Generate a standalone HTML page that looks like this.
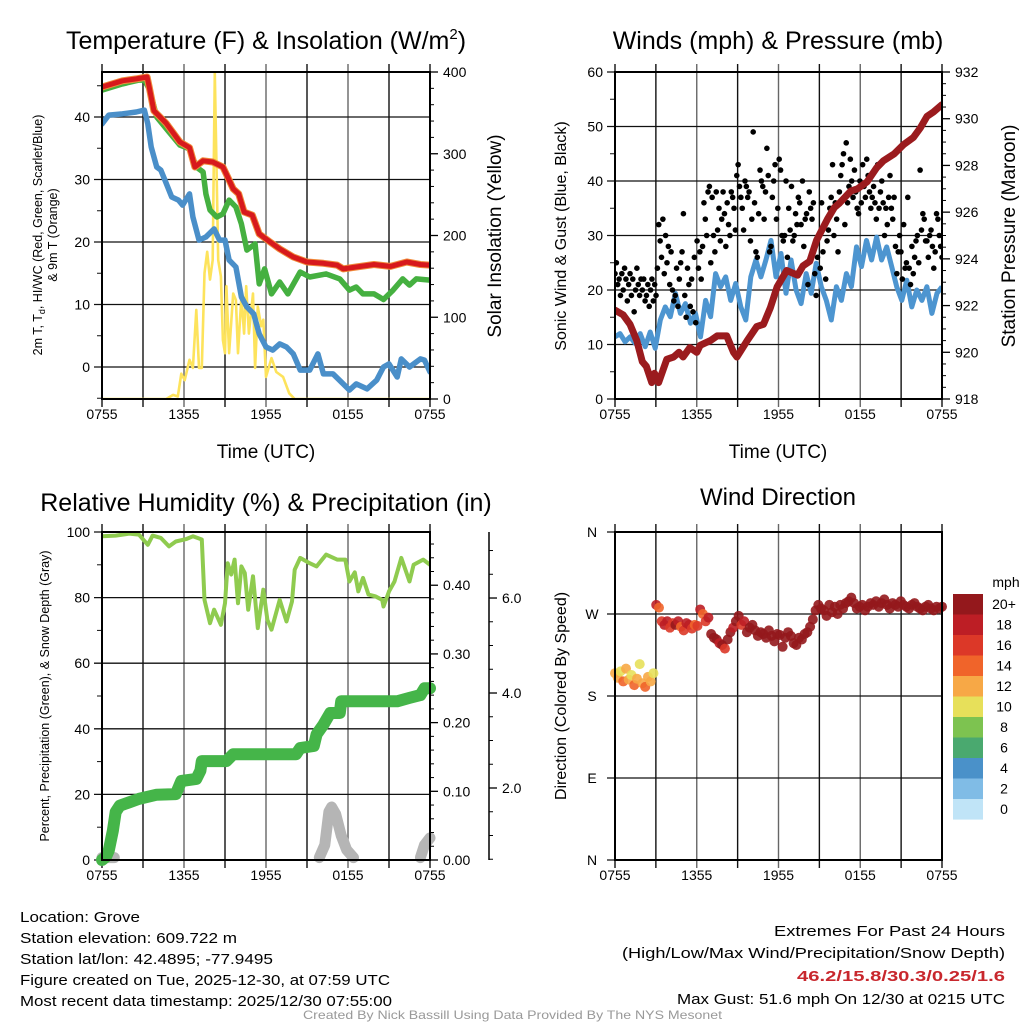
<!DOCTYPE html>
<html><head><meta charset="utf-8"><style>
html,body{margin:0;padding:0;background:#fff}
svg{display:block}
text{font-family:"Liberation Sans",sans-serif;fill:#000}
</style></head><body>
<svg id="chart" width="1024" height="1024" viewBox="0 0 1024 1024" xmlns="http://www.w3.org/2000/svg">
<rect x="0" y="0" width="1024" height="1024" fill="#fff"/>
<text x="266" y="49" font-size="25" text-anchor="middle">Temperature (F) &amp; Insolation (W/m<tspan font-size="15" dy="-10">2</tspan><tspan dy="10">)</tspan></text>
<text x="778" y="49" font-size="25" text-anchor="middle">Winds (mph) &amp; Pressure (mb)</text>
<text x="266" y="511" font-size="25" text-anchor="middle">Relative Humidity (%) &amp; Precipitation (in)</text>
<text x="778" y="505" font-size="24" text-anchor="middle">Wind Direction</text>
<text x="266" y="458" font-size="19" text-anchor="middle">Time (UTC)</text>
<text x="778" y="458" font-size="19" text-anchor="middle">Time (UTC)</text>
<g transform="translate(42,235) rotate(-90)"><text x="0" y="0" font-size="12.5" text-anchor="middle">2m T, T<tspan font-size="9" dy="3">d</tspan><tspan dy="-3">, HI/WC (Red, Green, Scarlet/Blue)</tspan></text><text x="0" y="15" font-size="12.5" text-anchor="middle">&amp; 9m T (Orange)</text></g>
<text transform="translate(501,236) rotate(-90)" font-size="19" text-anchor="middle">Solar Insolation (Yellow)</text>
<text transform="translate(566,236) rotate(-90)" font-size="16" text-anchor="middle">Sonic Wind &amp; Gust (Blue, Black)</text>
<text transform="translate(1015,236) rotate(-90)" font-size="19" text-anchor="middle">Station Pressure (Maroon)</text>
<text transform="translate(49,696) rotate(-90)" font-size="12.5" text-anchor="middle">Percent, Precipitation (Green), &amp; Snow Depth (Gray)</text>
<text transform="translate(566,696) rotate(-90)" font-size="16" text-anchor="middle">Direction (Colored By Speed)</text>
<g font-size="15">
<text x="20" y="922" textLength="120" lengthAdjust="spacingAndGlyphs">Location: Grove</text>
<text x="20" y="943" textLength="217" lengthAdjust="spacingAndGlyphs">Station elevation: 609.722 m</text>
<text x="20" y="964" textLength="253" lengthAdjust="spacingAndGlyphs">Station lat/lon: 42.4895; -77.9495</text>
<text x="20" y="985" textLength="370" lengthAdjust="spacingAndGlyphs">Figure created on Tue, 2025-12-30, at 07:59 UTC</text>
<text x="20" y="1006" textLength="372" lengthAdjust="spacingAndGlyphs">Most recent data timestamp: 2025/12/30 07:55:00</text>
</g>
<g font-size="15">
<text x="774" y="936" textLength="231" lengthAdjust="spacingAndGlyphs">Extremes For Past 24 Hours</text>
<text x="622" y="958" textLength="383" lengthAdjust="spacingAndGlyphs">(High/Low/Max Wind/Precipitation/Snow Depth)</text>
<text x="797" y="981" textLength="208" lengthAdjust="spacingAndGlyphs" font-weight="bold" style="fill:#c8272d">46.2/15.8/30.3/0.25/1.6</text>
<text x="677" y="1004" textLength="328" lengthAdjust="spacingAndGlyphs">Max Gust: 51.6 mph On 12/30 at 0215 UTC</text>
</g>
<text x="303" y="1019" font-size="12" textLength="419" lengthAdjust="spacingAndGlyphs" style="fill:#999">Created By Nick Bassill Using Data Provided By The NYS Mesonet</text>
</svg>
<script>
// ---------- data ----------
const tempHours=[0,1.5,2.5,3.3,3.45,3.8,4.7,5.7,6.4,6.8,7.4,8.1,8.85,9.2,9.6,10,10.4,11,11.5,12.3,13,14,15,16.2,17.2,17.65,18.6,19.9,21.1,22.3,23.3,24];
const tempValues=[44.8,45.8,46.1,46.4,44.8,41,39,36,35.1,32,33,32.8,32,30.4,28.5,27.7,24.8,24.3,21.3,20,18.9,17.6,16.8,16.6,16.3,15.7,16,16.4,16.1,16.8,16.4,16.3];
const hiwcHours=[0,1.5,2.7,3.1,3.5,4,4.9,5.7,6.4,6.9,7.4,7.6,7.9,8.4,8.85,9.3,9.8,10.2,10.6,11.2,11.5,11.9,12.4,13,13.6,14.5,15.2,16.4,17.4,18.1,18.6,19.1,19.9,20.6,21.3,22,22.5,23,24];
const hiwcValues=[44.3,45.3,45.9,45.9,44.3,40,37.6,35.5,34.9,32,31.2,27.7,25.1,24,24.5,26.7,25.6,22.9,18.7,19.7,13.3,15.7,11.7,13.6,11.7,15.2,14.4,14.9,14.1,12.3,12.8,11.7,11.7,10.8,12.3,14.1,13.1,14.1,13.9];
const dewHours=[0,0.5,1.5,2.5,3.1,3.35,3.6,4,4.3,4.6,5.1,5.6,5.9,6.4,6.65,7.1,7.6,8.2,8.6,9,9.3,9.8,10.2,10.6,11.1,11.5,12,12.5,13,13.5,14,14.5,15.2,15.8,16.2,16.9,17.65,18.1,18.6,19.4,20.1,20.6,21,21.6,21.9,22.5,23.3,23.6,24];
const dewValues=[38.9,40.3,40.5,40.8,41.1,38.9,35.2,32,31.5,29.9,27.2,26.7,25.9,27.7,24,20.3,20.8,22.1,20.3,20.3,17.1,16,11.2,9.6,8.5,5.3,3.2,2.7,3.7,3.2,2.1,-0.5,-0.5,2.1,-1.1,-1.1,-2.7,-3.7,-2.7,-3.5,-2.1,0,0.5,-1.6,1.3,0,1.3,1.1,-0.8];
const solarHours=[0,4.7,5.2,5.55,5.8,6.05,6.4,6.65,6.9,7.1,7.3,7.5,7.7,7.9,8.1,8.25,8.5,8.7,8.85,9,9.1,9.3,9.6,9.8,9.95,10.2,10.4,10.55,10.75,11.05,11.2,11.4,11.65,11.8,12,12.4,12.75,13.25,13.7,14.1,24];
const solarValues=[0,0,5,3,31,23,48,38,109,38,38,154,180,146,170,399,170,150,72,56,138,56,129,121,56,125,80,138,80,129,38,113,89,97,27,50,33,27,7,0,0];
const pressHours=[0,0.6,1.1,1.6,2,2.3,2.7,2.9,3.2,3.8,4.3,4.7,5,5.5,6,6.25,7,7.5,8.2,8.7,8.95,9.7,10.4,10.9,11.4,11.9,12.6,13.4,13.8,14.3,14.8,15.6,16.1,16.5,17.3,17.8,18.5,19.2,19.7,20.5,21.2,21.9,22.4,22.9,23.4,24];
const pressValues=[921.8,921.6,921.2,920.5,919.6,919.4,918.7,919.1,918.7,919.7,919.8,920,919.8,920.2,920,920.3,920.5,920.7,920.7,920,919.8,920.5,921.1,921.2,921.9,922.8,923.5,923.3,923.7,923.9,924.8,925.7,926.2,926.4,926.9,927,927.3,927.9,928.2,928.5,928.9,929.2,929.6,930.1,930.3,930.6];
const sonicValues=[11.4,12,10.5,11.4,10.2,12,9.6,12.3,9.3,14.5,16.9,15.1,19.4,15.7,17.5,13.9,15.7,11.4,18.1,15.1,23,20.6,22.4,18.1,21.2,16.9,14.5,22.4,25.5,22.4,25.5,29.1,22.4,26.7,19.4,25.5,20,17.5,23,19.4,24.9,20.6,18.1,14.5,20.6,18.1,23,20.6,27.9,24.3,29.1,25.5,29.7,25.5,27.9,24.3,20.6,18.1,21.8,16.9,20,18.1,20.6,15.7,19.4,20.6];
const gustValues=[23,25,21,22,19,23,20,24,22,18, 21,23,19,22,16,20,24,21,19,22, 20,22,18,19,21,17,20,22,18,21, 19,24,32,29,26,33,23,30,25,28, 21,27,20,18,19,24,17,22,25,27, 34,19,15,24,21,17,22,16,26,14, 29,24,27,22,28,36,33,30,38,39, 25,37,30,27,38,31,35,29,33,38, 34,28,36,32,30,38,37,35,31,41, 43,39,37,35,31,40,39,37,38,29, 33,49,36,27,26,34,42,40,39,33, 38,46,41,27,28,37,40,43,33,35, 44,42,30,29,30,40,26,35,31,39, 29,30,34,32,37,36,32,40,28,33, 34,21,38,35,33,36,23,19,26,30, 24,36,27,32,22,29,31,35,37,43, 30,36,33,27,38,41,43,45,32,47, 36,39,44,40,37,42,38,35,34,40, 36,43,39,37,44,41,38,35,37,39, 36,33,43,35,38,40,36,30,35,32, 37,41,35,33,37,28,23,27,30,27, 22,32,24,25,37,24,21,28,23,26, 29,30,25,42,31,34,33,29,29,26, 30,31,28,24,27,34,33,30,28,26];
const rhHours=[0,1,2,2.7,3.35,3.7,4.3,4.9,5.4,6.2,6.65,7.3,7.5,7.9,8.2,8.7,9,9.2,9.45,9.7,9.95,10.2,10.45,10.7,11.05,11.4,11.8,12.1,12.4,13,13.5,13.9,14.1,14.5,15.2,15.7,16.4,17.2,17.8,18.1,18.5,18.75,19.1,19.5,20,20.5,20.6,21,21.4,21.9,22.5,22.8,23.5,24];
const rhValues=[98.7,98.9,99.5,99.2,96.1,98.9,98.2,95.6,97.1,97.9,98.7,97.7,79.3,72.2,76.3,71.7,78.3,90.5,87,91.6,78.3,89.5,87.5,76.3,86.5,70.7,82.4,73.2,70.2,79.3,72.7,78.8,88.5,92.1,90.5,89.5,93.1,91.6,91.6,84.9,87.7,81.9,86,80.9,80.4,79.3,77.3,81.9,84.9,92.1,84.9,90,91.6,90];
const precipHours=[0,0.3,0.5,0.8,1,1.3,2,2.7,4,5.4,5.8,6.9,7.2,7.3,9.1,9.6,14.2,14.5,15.5,15.7,16.2,16.7,17.4,17.5,21.6,22.5,23.3,23.6,24];
const precipValues=[0,0.005,0.014,0.043,0.07,0.079,0.084,0.089,0.095,0.096,0.115,0.118,0.13,0.144,0.144,0.154,0.154,0.163,0.166,0.183,0.197,0.214,0.214,0.231,0.231,0.236,0.24,0.25,0.25];
const snowSeg1Hours=[0,0.3,0.9]; const snowSeg1Values=[0.4,0.4,0.4];
const snowSeg2Hours=[15.9,16.3,16.6,16.8,17.1,17.5,17.9,18.4]; const snowSeg2Values=[0.45,0.8,1.5,1.6,1.45,1.0,0.7,0.45];
const snowSeg3Hours=[23.3,23.6,24]; const snowSeg3Values=[0.45,0.8,0.95];
const dirValues=[205,200,207,196,210,198,203,192,199,215,194,190,201,196,205, 280,277,262,258,262,255,260,258,262,256,252,260,258,254,258, 257,275,270,262,266, 248,244,242,238,236,232,242,250,255,262, 268,258,262,250,255, 258,252,246,250,248,244,252,246,240,248, 247,234,244,250,246,238,236,244,242,248, 250,256,264,274,280, 276,274,268,280,272,278,270,280,276,282, 284,288,282,276,278,280,274,278,282,280, 284,278,282,286,280,276,282,280,278,284, 280,278,276,280,282,278,276,274,278,280,276,274,278,276,278];
const dirSpeeds=[11,12,10,13,11,12,10,13,12,10,11,13,12,11,10, 17,14,16,18,17,15,16,19,17,14,16,18,17,15,14, 15,17,14,16,18, 19,21,20,17,22,15,21,22,18,21, 20,16,18,21,22, 21,22,20,21,23,21,22,20,21,22, 21,22,23,21,22,21,20,22,21,22, 21,22,20,21,22, 21,23,22,24,21,22,25,21,23,22, 21,24,22,21,23,22,21,24,22,21, 22,21,23,22,24,21,22,23,21,22, 21,22,23,21,22,24,21,22,23,21,22,21,19,22,21];
const timeTickLabels=['0755','1355','1955','0155','0755'];
const speedLabels=['20+','18','16','14','12','10','8','6','4','2','0'];
const speedColors=['#94181c','#bd1e25','#dc3828','#f0642a','#f7a846','#e7e05a','#7dc350','#4aa96f','#4a91c9','#80bce6','#c0e4f7'];
const dirLabels=['N','W','S','E','N'];

// ---------- helpers ----------
const NS='http://www.w3.org/2000/svg';
const root=document.getElementById('chart');
function mk(tag,attrs,parent){const e=document.createElementNS(NS,tag);for(const k in attrs)e.setAttribute(k,attrs[k]);(parent||root).appendChild(e);return e;}
const P1={x0:102,x1:430,y0:72,y1:399},P2={x0:615,x1:942,y0:72,y1:399},P3={x0:102,x1:430,y0:532,y1:860},P4={x0:615,x1:942,y0:532,y1:860};
function X(P,h){return P.x0+(P.x1-P.x0)*h/24;}
function Y(P,v,lo,hi){return P.y1-(v-lo)/(hi-lo)*(P.y1-P.y0);}
function even(n){const a=[];for(let i=0;i<n;i++)a.push(i*24/(n-1));return a;}
function pathD(P,hs,vs,lo,hi){return hs.map((h,i)=>(i?'L':'M')+X(P,h).toFixed(1)+','+Y(P,vs[i],lo,hi).toFixed(1)).join(' ');}
function clipFor(P,id){const cp=mk('clipPath',{id:id});mk('rect',{x:P.x0,y:P.y0,width:P.x1-P.x0,height:P.y1-P.y0},cp);return 'url(#'+id+')';}

function frame(P,key,lo,hi,majors,minors,labelFmt,hourLabels){
  const g=mk('g',{});
  
  
  for(let h=0;h<=24;h+=3){
    const l=mk('line',{x1:X(P,h),x2:X(P,h),y1:P.y0-8,y2:P.y1+8,stroke:(h%6===0&&h%24!==0)?'#666':'#111','stroke-width':1.4},g);
    
    
  }
  majors.forEach((v,i)=>{
    const y=Y(P,v,lo,hi);
    const l=mk('line',{x1:P.x0-8,x2:P.x1,y1:y,y2:y,stroke:'#111','stroke-width':1.3},g);
    
    
    if(labelFmt){
      const t=mk('text',{x:P.x0-12,y:y+5,'font-size':14,'text-anchor':'end'},g);
      t.textContent=labelFmt(v,i);
      
      
    }
  });
  minors.forEach(v=>{
    const y=Y(P,v,lo,hi);
    const l=mk('line',{x1:P.x0-5,x2:P.x0,y1:y,y2:y,stroke:'#111','stroke-width':1},g);
    
    
  });
  if(hourLabels){
    hourLabels.forEach((s,i)=>{
      const t=mk('text',{x:X(P,i*6),y:P.y1+20,'font-size':14,'text-anchor':'middle'},g);
      t.textContent=s;
      
      
    });
  }
}
function border(P,key){
  const r=mk('rect',{x:P.x0,y:P.y0,width:P.x1-P.x0,height:P.y1-P.y0,fill:'none',stroke:'#000','stroke-width':2});
  
  
}
function rightAxis(P,key,x,lo,hi,majors,minors,fmt,drawLine){
  const g=mk('g',{});
  
  
  if(drawLine){const l=mk('line',{x1:x,x2:x,y1:P.y0,y2:P.y1,stroke:'#000','stroke-width':1.5},g);}
  majors.forEach(v=>{
    const y=Y(P,v,lo,hi);
    mk('line',{x1:x,x2:x+8,y1:y,y2:y,stroke:'#000','stroke-width':1.3},g);
    const t=mk('text',{x:x+13,y:y+5,'font-size':14},g);
    t.textContent=fmt(v);
    
    
  });
  minors.forEach(v=>{const y=Y(P,v,lo,hi);mk('line',{x1:x,x2:x+4,y1:y,y2:y,stroke:'#000','stroke-width':1},g);});
}
function range(a,b,s){const r=[];for(let v=a;v<=b+1e-9;v+=s)r.push(+v.toFixed(4));return r;}

// ---------- panel 1: temperature ----------
const T_LO=-5.12,T_HI=47.2,S_LO=0,S_HI=400;
frame(P1,'temp',T_LO,T_HI,[0,10,20,30,40],[-5,5,15,25,35,45],v=>String(v),timeTickLabels);
const c1=clipFor(P1,'c1');
const solar=mk('path',{d:pathD(P1,solarHours,solarValues,S_LO,S_HI),fill:'none',stroke:'#fde35c','stroke-width':2.6,'stroke-linejoin':'round','clip-path':c1});


const dew=mk('path',{d:pathD(P1,dewHours,dewValues,T_LO,T_HI),fill:'none',stroke:'#4a8fc9','stroke-width':5.5,'stroke-linejoin':'round','stroke-linecap':'round','clip-path':c1});


const hiwc=mk('path',{d:pathD(P1,hiwcHours,hiwcValues,T_LO,T_HI),fill:'none',stroke:'#45b040','stroke-width':5.5,'stroke-linejoin':'round','stroke-linecap':'round','clip-path':c1});


const t9=mk('path',{d:pathD(P1,tempHours,tempValues,T_LO,T_HI),fill:'none',stroke:'#f08a3a','stroke-width':7,'stroke-linejoin':'round','stroke-linecap':'round','clip-path':c1});


const t2=mk('path',{d:pathD(P1,tempHours,tempValues,T_LO,T_HI),fill:'none',stroke:'#d7191c','stroke-width':5,'stroke-linejoin':'round','stroke-linecap':'round','clip-path':c1});


border(P1,'temp');
rightAxis(P1,'solar',P1.x1,S_LO,S_HI,[0,100,200,300,400],range(20,380,20).filter(v=>v%100),v=>String(v),false);

// ---------- panel 2: winds ----------
const W_LO=0,W_HI=60,PR_LO=918,PR_HI=932;
frame(P2,'wind',W_LO,W_HI,[0,10,20,30,40,50,60],range(5,55,10),v=>String(v),timeTickLabels);
const c2=clipFor(P2,'c2');
const sonic=mk('path',{d:pathD(P2,even(sonicValues.length),sonicValues,W_LO,W_HI),fill:'none',stroke:'#4d95d0','stroke-width':5,'stroke-linejoin':'round','clip-path':c2});


const gh=even(gustValues.length);
gustValues.forEach((v,i)=>{
  const d=mk('circle',{cx:X(P2,gh[i]),cy:Y(P2,v,W_LO,W_HI),r:2.8,fill:'#000','clip-path':c2});
  
  
});
const press=mk('path',{d:pathD(P2,pressHours,pressValues,PR_LO,PR_HI),fill:'none',stroke:'#9b1b1e','stroke-width':7,'stroke-linejoin':'round','stroke-linecap':'round','clip-path':c2});


border(P2,'wind');
rightAxis(P2,'pressure',P2.x1,PR_LO,PR_HI,range(918,932,2),range(918.5,931.5,0.5).filter(v=>v%2),v=>String(v),false);

// ---------- panel 3: humidity ----------
const RH_LO=0,RH_HI=100,PC_LO=0,PC_HI=0.4775,SN_LO=0.484,SN_HI=7.39;
frame(P3,'rh',RH_LO,RH_HI,[0,20,40,60,80,100],range(10,90,20),v=>String(v),timeTickLabels);
const c3=clipFor(P3,'c3');
[[snowSeg1Hours,snowSeg1Values],[snowSeg2Hours,snowSeg2Values],[snowSeg3Hours,snowSeg3Values]].forEach(s=>{
  const vs=s[1].map(v=>Math.max(v,SN_LO+0.05));
  const p=mk('path',{d:pathD(P3,s[0],vs,SN_LO,SN_HI),fill:'none',stroke:'#b5b5b5','stroke-width':11,'stroke-linejoin':'round','stroke-linecap':'round'});
  
  
});
const rh=mk('path',{d:pathD(P3,rhHours,rhValues,RH_LO,RH_HI),fill:'none',stroke:'#8fcb4f','stroke-width':4,'stroke-linejoin':'round','stroke-linecap':'round','clip-path':c3});


const pc=mk('path',{d:pathD(P3,precipHours,precipValues,PC_LO,PC_HI),fill:'none',stroke:'#45b549','stroke-width':12,'stroke-linejoin':'round','stroke-linecap':'round'});


border(P3,'rh');
rightAxis(P3,'precip',P3.x1,PC_LO,PC_HI,range(0,0.4,0.1),range(0.02,0.46,0.02).filter(v=>Math.round(v*100)%10),v=>v.toFixed(2),false);
rightAxis(P3,'snow',489,SN_LO,SN_HI,[2,4,6],range(0.5,7,0.5).filter(v=>v%2),v=>v.toFixed(1),true);

// ---------- panel 4: direction ----------
frame(P4,'direction',0,360,[0,90,180,270,360],[],null,timeTickLabels);
[360,270,180,90,0].forEach((v,i)=>{
  const t=mk('text',{x:P4.x0-23,y:Y(P4,v,0,360)+5,'font-size':14,'text-anchor':'middle'});
  t.textContent=dirLabels[i];
  
  
});
const dh=even(dirValues.length);
dirValues.forEach((v,i)=>{
  const idx=10-Math.min(10,Math.round(dirSpeeds[i]/2));
  const d=mk('circle',{cx:X(P4,dh[i]),cy:Y(P4,v,0,360),r:5,fill:speedColors[idx],'fill-opacity':0.9});
  
  
});
border(P4,'direction');
const cbg=mk('g',{});


const cbt=mk('text',{x:1006,y:587,'font-size':14,'text-anchor':'middle'},cbg);
cbt.textContent='mph';


speedLabels.forEach((s,i)=>{
  const r=mk('rect',{x:953,y:594+i*20.5,width:30,height:20.6,fill:speedColors[i]},cbg);
  
  
  const t=mk('text',{x:1004,y:594+i*20.5+15,'font-size':14,'text-anchor':'middle'},cbg);
  t.textContent=s;
  
  
});
</script>
</body></html>
